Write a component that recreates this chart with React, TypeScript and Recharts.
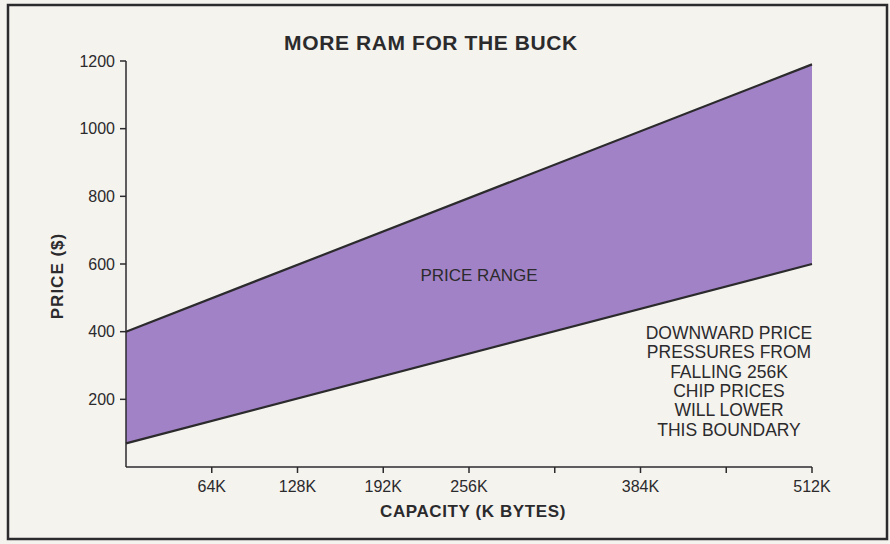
import React from 'react'
import { ComposedChart, Area, Line, XAxis, YAxis } from 'recharts'

// capacity in K bytes, boundary prices in $
const capacity = [0, 512]
const lowPrice = [70, 600]
const highPrice = [400, 1190]

const xTicks = [64, 128, 192, 256, 320, 384, 448, 512]
const xTickLabels = ['64K', '128K', '192K', '256K', '', '384K', '', '512K']
const yTicks = [200, 400, 600, 800, 1000, 1200]

const noteLines = [
  'DOWNWARD PRICE',
  'PRESSURES FROM',
  'FALLING 256K',
  'CHIP PRICES',
  'WILL LOWER',
  'THIS BOUNDARY',
]

const INK = '#2b2a2c'
const FILL = '#a282c6'
const PAPER = '#f5f3ee'
const FONT = '"Liberation Sans", Arial, Helvetica, sans-serif'

const data = capacity.map((cap, i) => ({
  cap,
  low: lowPrice[i],
  high: highPrice[i],
  range: [lowPrice[i], highPrice[i]],
}))

export default function App() {
  const tickStyle = { fill: INK, fontSize: 16, fontFamily: FONT }

  return (
    <div style={{ position: 'absolute', left: 0, top: 0, width: 890, height: 544, background: PAPER }}>
      <ComposedChart
        width={890}
        height={544}
        data={data}
        margin={{ top: 61, right: 78, bottom: 0, left: 0 }}
      >
        <XAxis
          dataKey="cap"
          type="number"
          domain={[0, 512]}
          ticks={xTicks}
          tickFormatter={(v) => xTickLabels[xTicks.indexOf(v)] ?? ''}
          height={77}
          stroke={INK}
          strokeWidth={1.5}
          tickSize={6}
          tickMargin={8}
          tick={tickStyle}
          interval={0}
        />
        <YAxis
          type="number"
          domain={[0, 1200]}
          ticks={yTicks}
          width={126}
          stroke={INK}
          strokeWidth={1.5}
          tickSize={6}
          tickMargin={5}
          tick={tickStyle}
          interval={0}
        />
        <Area
          dataKey="range"
          type="linear"
          fill={FILL}
          fillOpacity={1}
          stroke="none"
          isAnimationActive={false}
        />
        <Line dataKey="low" type="linear" stroke={INK} strokeWidth={2.2} dot={false} isAnimationActive={false} />
        <Line dataKey="high" type="linear" stroke={INK} strokeWidth={2.2} dot={false} isAnimationActive={false} />
      </ComposedChart>

      <svg
        width={890}
        height={544}
        style={{ position: 'absolute', left: 0, top: 0, pointerEvents: 'none' }}
        fontFamily={FONT}
        fill={INK}
      >
        <rect x={8} y={5} width={879} height={534} fill="none" stroke={INK} strokeWidth={2.5} />
        <text x={431} y={50} textAnchor="middle" fontSize={21} fontWeight="bold" letterSpacing={0.6}>
          MORE RAM FOR THE BUCK
        </text>
        <text x={473} y={517} textAnchor="middle" fontSize={17} fontWeight="bold" letterSpacing={0.6}>
          CAPACITY (K BYTES)
        </text>
        <text
          x={0}
          y={0}
          transform="translate(63 276) rotate(-90)"
          textAnchor="middle"
          fontSize={17}
          fontWeight="bold"
          letterSpacing={1}
        >
          PRICE ($)
        </text>
        <text x={479} y={281} textAnchor="middle" fontSize={17}>
          PRICE RANGE
        </text>
        {noteLines.map((line, i) => (
          <text key={line} x={729} y={339 + i * 19.3} textAnchor="middle" fontSize={17.5}>
            {line}
          </text>
        ))}
      </svg>
    </div>
  )
}
